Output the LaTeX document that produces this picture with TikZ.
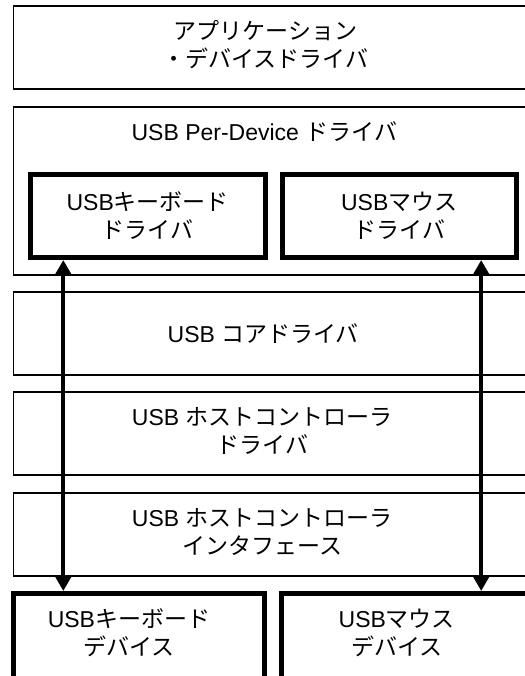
\documentclass[tikz,border=0pt]{standalone}
\usepackage{fontspec}
\setmainfont{Liberation Sans}
\newfontfamily\jp{Noto Sans CJK JP}
\usetikzlibrary{positioning,arrows.meta}

\begin{document}
\begin{tikzpicture}[x=1bp,y=-1bp,>={Triangle[length=15bp,width=16bp]},
    layer node/.style={draw,line width=1.2bp,outer sep=0pt,inner sep=0pt,minimum width=530bp,minimum height=83bp,anchor=north west},
    module node/.style={draw,line width=5bp,inner sep=0pt,align=center,font=\fontsize{23bp}{28bp}\selectfont},
    caption node/.style={align=center,inner sep=0pt,font=\fontsize{23bp}{28bp}\selectfont}]
    \useasboundingbox (0,0) rectangle (525,676);
    \clip (0,0) rectangle (525,676);

    \node[layer node] (1) at (13.3,6) [label={[caption node,name=1t,xshift=-13bp,yshift=3bp]center:{\jp アプリケーション}\\{\jp ・デバイスドライバ}}] {};
    \node[layer node,minimum height=168bp] (2) [below=18bp of 1.south west,anchor=north west,label={[caption node,name=2t,xshift=-14bp,yshift=59bp]center:USB Per-Device {\jp ドライバ}}] {};
    \node[layer node] (5) [below=17bp of 2.south west,anchor=north west,label={[caption node,name=5t,xshift=-15bp]center:USB {\jp コアドライバ}}] {};
    \node[layer node] (6) [below=17bp of 5.south west,anchor=north west,label={[caption node,name=6t,xshift=-16bp,yshift=2.5bp]center:USB {\jp ホストコントローラ}\\{\jp ドライバ}}] {};
    \node[layer node] (7) [below=18bp of 6.south west,anchor=north west,label={[caption node,name=7t,xshift=-16bp,yshift=3bp]center:USB {\jp ホストコントローラ}\\{\jp インタフェース}}] {};

    \node[module node,minimum width=234.5bp,minimum height=83.5bp] (3) [below right=64.5bp and 14.7bp of 2.north west] {USB{\jp キーボード}\\{\jp ドライバ}};
    \node[module node,minimum width=234.5bp,minimum height=83.5bp] (4) [right=12bp of 3] {USB{\jp マウス}\\{\jp ドライバ}};

    \node[module node,minimum width=251.2bp,minimum height=120bp] (8) [below right=15bp and -2.5bp of 7.south west,label={[caption node,name=8t,xshift=-10bp,yshift=21bp]center:USB{\jp キーボード}\\{\jp デバイス}}] {};
    \node[module node,minimum width=260bp,minimum height=120bp] (9) [right=12.3bp of 8,label={[caption node,name=9t,xshift=-15bp,yshift=21bp]center:USB{\jp マウス}\\{\jp デバイス}}] {};

    \path[<->,line width=4bp]
        ([xshift=35.3bp]3.south west) edge ([xshift=35.3bp]3.south west |- 8.north)
        ([xshift=201.7bp]4.south west) edge ([xshift=201.7bp]4.south west |- 9.north)
        ;
\end{tikzpicture}
\end{document}
